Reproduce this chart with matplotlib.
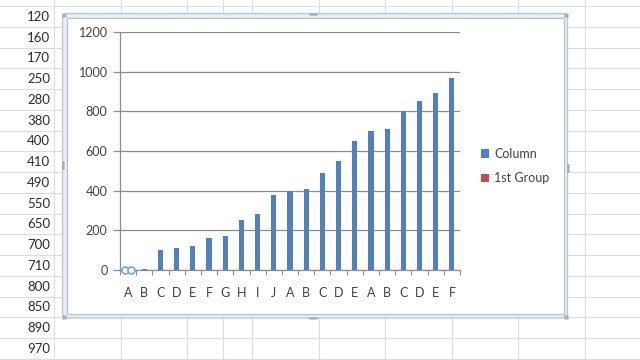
import matplotlib
matplotlib.use("Agg")
import matplotlib.pyplot as plt
from matplotlib.patches import FancyBboxPatch
import numpy as np

# ---- data ----
categories = ["A", "B", "C", "D", "E", "F", "G", "H", "I", "J",
              "A", "B", "C", "D", "E", "A", "B", "C", "D", "E", "F"]
column_values = [0, 5, 100, 110, 120, 160, 170, 250, 280, 380,
                 400, 410, 490, 550, 650, 700, 710, 800, 850, 890, 970]
first_group = [0]
series_names = ["Column", "1st Group"]
y_ticks = [0, 200, 400, 600, 800, 1000, 1200]
sheet_values = [120, 160, 170, 250, 280, 380, 400, 410, 490,
                550, 650, 700, 710, 800, 850, 890, 970]

FONT = ["Lato", "DejaVu Sans"]
plt.rcParams["font.family"] = FONT
BLUE = "#4F81BD"
RED = "#C0504D"
GRID = "#8C8C8C"
TXT = "#404040"

fig = plt.figure(figsize=(6.4, 3.6), dpi=100)
fig.patch.set_facecolor("white")

# ---- spreadsheet background (pixel coordinates) ----
bg = fig.add_axes([0, 0, 1, 1])
bg.set_xlim(0, 640)
bg.set_ylim(360, 0)
bg.axis("off")
row_h = 20.75
row_top = 6
for k in range(len(sheet_values) + 1):
    y = row_top + k * row_h
    bg.axhline(y, color="#D9DCE0", lw=0.8, zorder=1)
for xv in [54, 121, 187, 223, 252, 319, 385, 452, 518, 585]:
    bg.axvline(xv, color="#D9DCE0", lw=0.8, zorder=1)
for k, v in enumerate(sheet_values):
    yc = row_top + (k + 0.5) * row_h
    bg.text(50, yc + 0.5, str(v), ha="right", va="center", fontsize=9.5,
            color="#2B2B2B", zorder=2)

# chart frame
outer = FancyBboxPatch((62.5, 13.5), 505, 304.5,
                       boxstyle="round,pad=0,rounding_size=5",
                       facecolor="#E3EEF5", edgecolor="#B3C7D8", lw=0.9, zorder=3)
bg.add_patch(outer)
inner = FancyBboxPatch((66.5, 17.5), 497, 296.5, boxstyle="square,pad=0",
                       facecolor="white", edgecolor="#BDBDBD", lw=0.8, zorder=4)
bg.add_patch(inner)
# resize handles
for (hx, hy, vertical) in [(313, 13.5, False), (313, 318, False),
                           (62.5, 165, True), (567.5, 168, True)]:
    for d in (-3, -1, 1, 3):
        px, py = (hx, hy + d) if vertical else (hx + d, hy)
        bg.plot(px, py, marker="o", ms=0.7, color="#98A6B3", zorder=5)
for (cx, cy) in [(64, 15), (566, 15), (64, 316.5), (566, 316.5)]:
    for dx in (-1, 1):
        for dy in (-1, 1):
            bg.plot(cx + dx, cy + dy, marker="o", ms=0.6, color="#98A6B3", zorder=5)

# ---- chart axes ----
ax = fig.add_axes([120 / 640, 90 / 360, 340 / 640, 238 / 360])
ax.set_zorder(5)
ax.patch.set_alpha(0)
x = np.arange(len(categories))
b1 = ax.bar(x, column_values, width=0.32, color=BLUE, zorder=3, label=series_names[0])
b2 = ax.bar(x[:len(first_group)], first_group, width=0.32, color=RED, zorder=3,
            label=series_names[1])
# selection handles on the (zero-height) 1st Group point
ax.plot(x[:len(first_group)] - 0.17, first_group, "o", ms=5, mfc="white",
        mec="#6FA8D6", mew=1.2, clip_on=False, zorder=6)
ax.plot(x[:len(first_group)] + 0.17, first_group, "o", ms=5, mfc="white",
        mec="#6FA8D6", mew=1.2, clip_on=False, zorder=6)

ax.set_xlim(-0.5, len(categories) - 0.5)
ax.set_ylim(0, 1200)
ax.set_yticks(y_ticks)
ax.set_yticklabels([str(v) for v in y_ticks])
ax.set_xticks(x)
ax.set_xticklabels(categories)
ax.set_xticks(np.arange(-0.5, len(categories)), minor=True)
ax.tick_params(axis="x", which="major", length=0, pad=12, labelsize=9, labelcolor=TXT)
ax.tick_params(axis="x", which="minor", length=3.6, width=0.8, color=GRID, direction="out")
ax.tick_params(axis="y", which="major", length=5, width=0.9, color=GRID, pad=4,
               labelsize=9, labelcolor=TXT)
ax.yaxis.grid(True, color=GRID, lw=0.9, zorder=0)
ax.set_axisbelow(True)
for s in ("top", "right"):
    ax.spines[s].set_visible(False)
for s in ("left", "bottom"):
    ax.spines[s].set_color(GRID)
    ax.spines[s].set_linewidth(0.9)

fig.legend(handles=[b1, b2], labels=series_names, loc="center left",
           bbox_to_anchor=(470 / 640, 1 - 166 / 360), frameon=False,
           handlelength=0.65, handleheight=0.65, handletextpad=0.4,
           labelspacing=1.0, fontsize=9, labelcolor=TXT)

fig.savefig("out.png", dpi=100)
